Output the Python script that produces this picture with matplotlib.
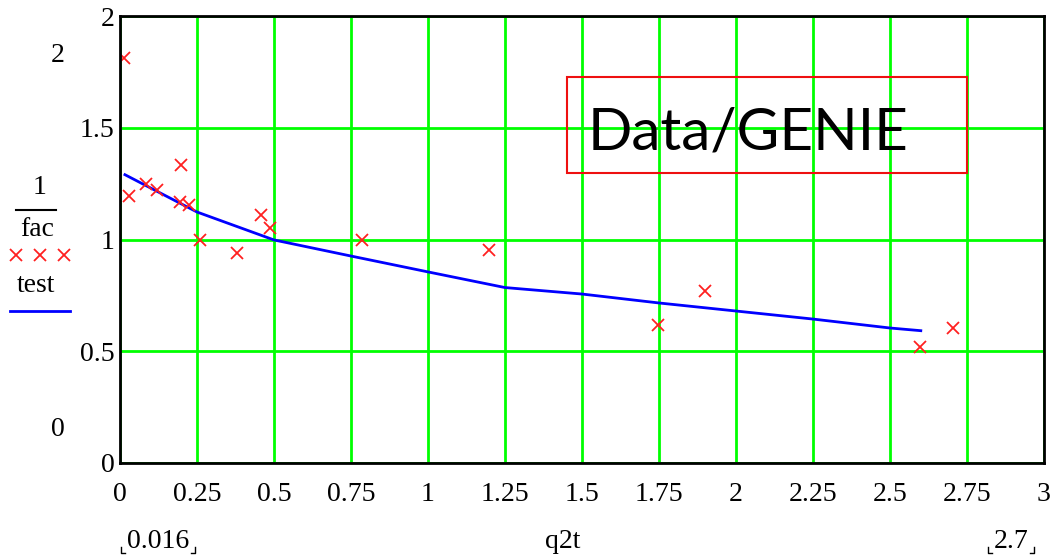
import matplotlib
matplotlib.use("Agg")
import matplotlib.pyplot as plt
from matplotlib.lines import Line2D
from matplotlib.patches import Rectangle

# Data
q2t_data = [0.013, 0.03, 0.084, 0.12, 0.198, 0.195, 0.224, 0.26, 0.38, 0.458, 0.487, 0.786, 1.198, 1.747, 1.90, 2.597, 2.705]
ratio_data = [1.812, 1.195, 1.248, 1.22, 1.333, 1.168, 1.154, 0.998, 0.94, 1.11, 1.05, 0.998, 0.953, 0.617, 0.77, 0.519, 0.604]

q2t_fit = [0.016, 0.1, 0.25, 0.5, 0.75, 1.0, 1.25, 1.5, 1.75, 2.0, 2.25, 2.5, 2.6]
ratio_fit = [1.29, 1.23, 1.123, 0.998, 0.926, 0.855, 0.785, 0.756, 0.716, 0.68, 0.644, 0.604, 0.592]

xticks = [0, 0.25, 0.5, 0.75, 1, 1.25, 1.5, 1.75, 2, 2.25, 2.5, 2.75, 3]
xticklabels = ["0", "0.25", "0.5", "0.75", "1", "1.25", "1.5", "1.75", "2", "2.25", "2.5", "2.75", "3"]
yticks = [0, 0.5, 1, 1.5, 2]
yticklabels = ["0", "0.5", "1", "1.5", "2"]

W, H = 1056, 557
fig = plt.figure(figsize=(W / 100, H / 100), dpi=100)
L, R, T, B = 120, 1044, 16, 463
ax = fig.add_axes([L / W, 1 - B / H, (R - L) / W, (B - T) / H])
ax.set_xlim(0, 3)
ax.set_ylim(0, 2)

serif = "Liberation Serif"
FS = 20
ax.set_xticks(xticks)
ax.set_yticks(yticks)
ax.grid(True, color="#00ff00", linewidth=2)
ax.set_axisbelow(True)
ax.tick_params(length=0)
ax.tick_params(axis="x", pad=14)
ax.tick_params(axis="y", pad=4)
ax.set_xticklabels(xticklabels, fontfamily=serif, fontsize=FS)
ax.set_yticklabels(yticklabels, fontfamily=serif, fontsize=FS)
for s in ax.spines.values():
    s.set_linewidth(2)
    s.set_color("black")

ax.plot(q2t_fit, ratio_fit, color="#0000ff", linewidth=2)
ax.plot(q2t_data, ratio_data, linestyle="none", marker="x", color="#ff2020",
        markersize=9, markeredgewidth=1.3)

# Data/GENIE box
ax.text((588 - L) / (R - L), (B - 133) / (B - T), "Data/GENIE", transform=ax.transAxes,
        fontfamily="Lato", fontsize=42, color="black", va="center", ha="left")
fig.patches.append(Rectangle((567 / W, 1 - 173 / H), 400 / W, 96 / H, transform=fig.transFigure,
                             fill=False, edgecolor="#ee1010", linewidth=1.5))

def fx(px):
    return px / W

def fy(py):
    return 1 - py / H

# left-side axis annotation
fig.text(fx(58), fy(55), "2", fontfamily=serif, fontsize=FS, ha="center", va="center")
fig.text(fx(40), fy(188), "1", fontfamily=serif, fontsize=FS, ha="center", va="center")
fig.add_artist(Line2D([fx(16), fx(56)], [fy(210), fy(210)], color="black", linewidth=1.5))
fig.text(fx(37), fy(230), "fac", fontfamily=serif, fontsize=FS, ha="center", va="center")
for px in [16, 40, 64]:
    fig.add_artist(Line2D([fx(px)], [fy(255)], marker="x", color="#ff2020",
                          markersize=9, markeredgewidth=1.3, linestyle="none"))
fig.text(fx(36), fy(285), "test", fontfamily=serif, fontsize=FS, ha="center", va="center")
fig.add_artist(Line2D([fx(10), fx(70)], [fy(311), fy(311)], color="#0000ff", linewidth=2))
fig.text(fx(58), fy(430), "0", fontfamily=serif, fontsize=FS, ha="center", va="center")

# x-axis annotation
fig.text(fx(158), fy(541), "0.016", fontfamily=serif, fontsize=FS, ha="center", va="center")
fig.text(fx(563), fy(541), "q2t", fontfamily=serif, fontsize=FS, ha="center", va="center")
fig.text(fx(1011), fy(541), "2.7", fontfamily=serif, fontsize=FS, ha="center", va="center")

def corners(x0, x1, yb):
    for xs in ([x0, x0, x0 + 4], [x1, x1, x1 - 4]):
        fig.add_artist(Line2D([fx(xs[0]), fx(xs[1]), fx(xs[2])],
                              [fy(yb - 6), fy(yb), fy(yb)], color="black", linewidth=1))

corners(121, 195, 553)
corners(988, 1034, 553)

fig.savefig("out.png", dpi=100)
